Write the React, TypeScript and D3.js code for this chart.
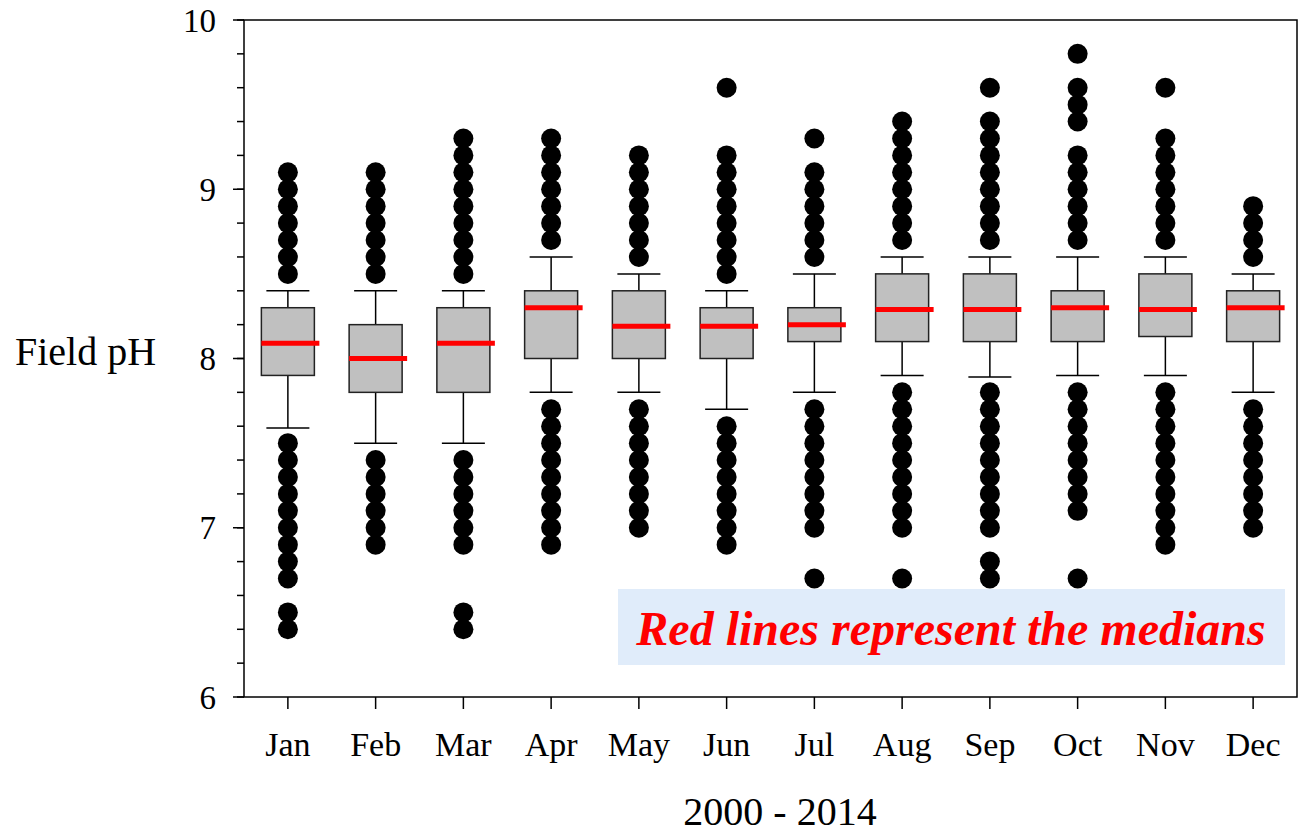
import React from "react";
import * as d3 from "d3";

const months = ["Jan", "Feb", "Mar", "Apr", "May", "Jun", "Jul", "Aug", "Sep", "Oct", "Nov", "Dec"];
const q1 = [7.9, 7.8, 7.8, 8.0, 8.0, 8.0, 8.1, 8.1, 8.1, 8.1, 8.13, 8.1];
const q3 = [8.3, 8.2, 8.3, 8.4, 8.4, 8.3, 8.3, 8.5, 8.5, 8.4, 8.5, 8.4];
const medians = [8.09, 8.0, 8.09, 8.3, 8.19, 8.19, 8.2, 8.29, 8.29, 8.3, 8.29, 8.3];
const whiskerLow = [7.59, 7.5, 7.5, 7.8, 7.8, 7.7, 7.8, 7.9, 7.89, 7.9, 7.9, 7.8];
const whiskerHigh = [8.4, 8.4, 8.4, 8.6, 8.5, 8.4, 8.5, 8.6, 8.6, 8.6, 8.6, 8.5];
const outliers: number[][] = [
  [9.1, 9.0, 8.9, 8.8, 8.7, 8.6, 8.5, 7.5, 7.4, 7.3, 7.2, 7.1, 7.0, 6.9, 6.8, 6.7, 6.5, 6.4],
  [9.1, 9.0, 8.9, 8.8, 8.7, 8.6, 8.5, 7.4, 7.3, 7.2, 7.1, 7.0, 6.9],
  [9.3, 9.2, 9.1, 9.0, 8.9, 8.8, 8.7, 8.6, 8.5, 7.4, 7.3, 7.2, 7.1, 7.0, 6.9, 6.5, 6.4],
  [9.3, 9.2, 9.1, 9.0, 8.9, 8.8, 8.7, 7.7, 7.6, 7.5, 7.4, 7.3, 7.2, 7.1, 7.0, 6.9],
  [9.2, 9.1, 9.0, 8.9, 8.8, 8.7, 8.6, 7.7, 7.6, 7.5, 7.4, 7.3, 7.2, 7.1, 7.0],
  [9.6, 9.2, 9.1, 9.0, 8.9, 8.8, 8.7, 8.6, 8.5, 7.6, 7.5, 7.4, 7.3, 7.2, 7.1, 7.0, 6.9],
  [9.3, 9.1, 9.0, 8.9, 8.8, 8.7, 8.6, 7.7, 7.6, 7.5, 7.4, 7.3, 7.2, 7.1, 7.0, 6.7],
  [9.4, 9.3, 9.2, 9.1, 9.0, 8.9, 8.8, 8.7, 7.8, 7.7, 7.6, 7.5, 7.4, 7.3, 7.2, 7.1, 7.0, 6.7],
  [9.6, 9.4, 9.3, 9.2, 9.1, 9.0, 8.9, 8.8, 8.7, 7.8, 7.7, 7.6, 7.5, 7.4, 7.3, 7.2, 7.1, 7.0, 6.8, 6.7],
  [9.8, 9.6, 9.5, 9.4, 9.2, 9.1, 9.0, 8.9, 8.8, 8.7, 7.8, 7.7, 7.6, 7.5, 7.4, 7.3, 7.2, 7.1, 6.7],
  [9.6, 9.3, 9.2, 9.1, 9.0, 8.9, 8.8, 8.7, 7.8, 7.7, 7.6, 7.5, 7.4, 7.3, 7.2, 7.1, 7.0, 6.9],
  [8.9, 8.8, 8.7, 8.6, 7.7, 7.6, 7.5, 7.4, 7.3, 7.2, 7.1, 7.0],
];
const yMajorTicks = [6, 7, 8, 9, 10];
const yMinorTicks = d3.range(6, 10.001, 0.2);
const yTitle = "Field pH";
const xTitle = "2000 - 2014";
const note = "Red lines represent the medians";

const W = 1301, H = 834;
const left = 244, right = 1297, top = 20, bottom = 697;
const font = "'Liberation Serif', 'Times New Roman', serif";

export default function App() {
  const y = d3.scaleLinear().domain([6, 10]).range([bottom, top]);
  const x = d3.scaleBand().domain(months).range([left, right]).padding(0);
  const bw = x.bandwidth();
  const boxW = 53;
  const capW = 43;
  return (
    <svg width={W} height={H} style={{ position: "absolute", left: 0, top: 0 }} fontFamily={font}>
      <rect x={0} y={0} width={W} height={H} fill="#fff" />
      {/* annotation box */}
      <rect x={618} y={589} width={667} height={76} fill="#e0ecfa" />
      <text x={951} y={645} textAnchor="middle" fill="#ff0000" fontSize={48} fontWeight="bold" fontStyle="italic">
        {note}
      </text>
      {/* boxes */}
      {months.map((m, i) => {
        const cx = (x(m) as number) + bw / 2;
        return (
          <g key={m}>
            <line x1={cx} x2={cx} y1={y(whiskerHigh[i])} y2={y(q3[i])} stroke="#000" strokeWidth={1.5} />
            <line x1={cx} x2={cx} y1={y(q1[i])} y2={y(whiskerLow[i])} stroke="#000" strokeWidth={1.5} />
            <line x1={cx - capW / 2} x2={cx + capW / 2} y1={y(whiskerHigh[i])} y2={y(whiskerHigh[i])} stroke="#000" strokeWidth={1.5} />
            <line x1={cx - capW / 2} x2={cx + capW / 2} y1={y(whiskerLow[i])} y2={y(whiskerLow[i])} stroke="#000" strokeWidth={1.5} />
            <rect x={cx - boxW / 2} y={y(q3[i])} width={boxW} height={y(q1[i]) - y(q3[i])} fill="#c0c0c0" stroke="#222" strokeWidth={1.5} />
            <line x1={cx - boxW / 2} x2={cx + boxW / 2 + 5} y1={y(medians[i])} y2={y(medians[i])} stroke="#ff0000" strokeWidth={5} />
            {outliers[i].map((v, j) => (
              <circle key={j} cx={cx} cy={y(v)} r={10} fill="#000" />
            ))}
          </g>
        );
      })}
      {/* frame */}
      <rect x={left} y={top} width={right - left} height={bottom - top} fill="none" stroke="#000" strokeWidth={1.5} />
      {/* y ticks */}
      {yMinorTicks.map((t, i) => (
        <line key={"mi" + i} x1={left - 7} x2={left} y1={y(t)} y2={y(t)} stroke="#000" strokeWidth={1.5} />
      ))}
      {yMajorTicks.map((t) => (
        <g key={"ma" + t}>
          <line x1={left - 11} x2={left} y1={y(t)} y2={y(t)} stroke="#000" strokeWidth={1.5} />
          <text x={216} y={y(t)} dy="0.35em" textAnchor="end" fontSize={33} fill="#000">
            {t}
          </text>
        </g>
      ))}
      {/* x ticks */}
      {months.map((m) => {
        const cx = (x(m) as number) + bw / 2;
        return (
          <g key={"xt" + m}>
            <line x1={cx} x2={cx} y1={bottom} y2={bottom + 12} stroke="#000" strokeWidth={1.5} />
            <text x={cx} y={756} textAnchor="middle" fontSize={34} fill="#000">
              {m}
            </text>
          </g>
        );
      })}
      <text x={15} y={365} fontSize={40} fill="#000">
        {yTitle}
      </text>
      <text x={780} y={825} textAnchor="middle" fontSize={40} fill="#000">
        {xTitle}
      </text>
    </svg>
  );
}
